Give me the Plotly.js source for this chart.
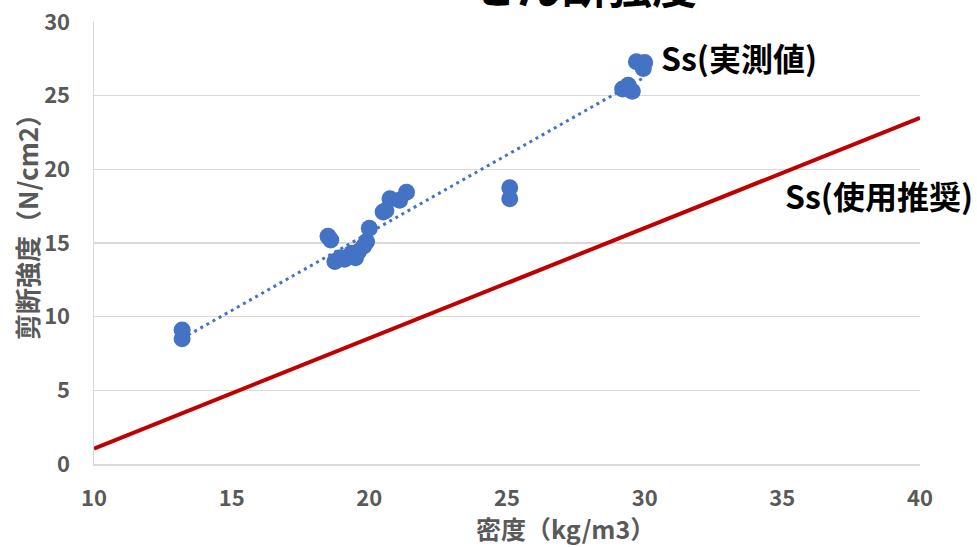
<!DOCTYPE html>
<html>
<head>
<meta charset="utf-8">
<script src="https://cdn.plot.ly/plotly-3.0.1.min.js"></script>
<style>html,body{margin:0;padding:0;background:#fff;}#chart{width:977px;height:547px;}</style>
</head>
<body>
<div id="chart"></div>
<script>
// measured data: density (kg/m3) vs shear strength (N/cm2)
const density = [13.2, 13.2, 18.5, 18.6, 18.75, 18.95, 19.1, 19.35, 19.5, 19.6, 19.8, 19.9, 20.0, 20.5, 20.6, 20.75, 21.1, 21.35, 25.1, 25.1, 29.2, 29.4, 29.55, 29.7, 30.0, 29.95];
const shear = [9.1, 8.5, 15.45, 15.2, 13.75, 14.0, 13.9, 14.3, 14.0, 14.4, 14.8, 15.1, 16.0, 17.1, 17.2, 18.0, 17.9, 18.45, 18.75, 18.0, 25.45, 25.7, 25.3, 27.3, 27.25, 26.85];
// recommended line endpoints
const recX = [10, 40];
const recY = [1.05, 23.5];
const xTicks = [10, 15, 20, 25, 30, 35, 40];
const yTicks = [0, 5, 10, 15, 20, 25, 30];

// linear trendline (least squares) from the measured data
const n = density.length;
const mx = density.reduce((a, b) => a + b, 0) / n;
const my = shear.reduce((a, b) => a + b, 0) / n;
let sxy = 0, sxx = 0;
for (let i = 0; i < n; i++) { sxy += (density[i] - mx) * (shear[i] - my); sxx += (density[i] - mx) ** 2; }
const slope = sxy / sxx, icpt = my - slope * mx;
const tX = [Math.min(...density), Math.max(...density)];
const tY = tX.map(x => icpt + slope * x);

const grey = '#595959';
const font = 'Noto Sans CJK JP, Noto Sans, sans-serif';

const traces = [
  { x: recX, y: recY, mode: 'lines', line: { color: '#C00000', width: 4 }, hoverinfo: 'skip' },
  { x: tX, y: tY, mode: 'lines', line: { color: '#4472C4', width: 3, dash: '3px,4px' }, hoverinfo: 'skip' },
  { x: density, y: shear, mode: 'markers', marker: { color: '#4472C4', size: 17 } }
];

const layout = {
  width: 977, height: 547,
  margin: { l: 94, r: 57, t: 22, b: 83 },
  paper_bgcolor: '#fff', plot_bgcolor: '#fff',
  showlegend: false,
  font: { family: font, color: grey },
  xaxis: {
    range: [10, 40], tickvals: xTicks, ticktext: xTicks.map(String),
    showgrid: false, zeroline: false, showline: true, linecolor: '#D9D9D9', linewidth: 1.5,
    ticks: '', ticklabelstandoff: 14,
    tickfont: { family: font, size: 22, color: grey, weight: 'bold' }
  },
  yaxis: {
    range: [0, 30], tickvals: yTicks, ticktext: yTicks.map(String),
    showgrid: true, gridcolor: '#D9D9D9', gridwidth: 1.5, zeroline: false,
    showline: true, linecolor: '#D9D9D9', linewidth: 1.5,
    ticks: '', ticklabelstandoff: 18,
    tickfont: { family: font, size: 22, color: grey, weight: 'bold' }
  },
  annotations: [
    { text: '<b>せん断強度</b>', xref: 'paper', yref: 'paper', x: 0.594, y: 1.085, xanchor: 'center', yanchor: 'middle', showarrow: false, font: { family: font, size: 45, color: '#000' } },
    { text: '<b>密度（kg/m3）</b>', xref: 'paper', yref: 'paper', x: 0.571, y: -0.145, xanchor: 'center', yanchor: 'middle', showarrow: false, font: { family: font, size: 25, color: grey } },
    { text: '<b>剪断強度（N/cm2）</b>', xref: 'paper', yref: 'paper', x: -0.081, y: 0.55, xanchor: 'center', yanchor: 'middle', textangle: -90, showarrow: false, font: { family: font, size: 26, color: grey } },
    { text: '<b>Ss(実測値)</b>', xref: 'paper', yref: 'paper', x: 0.684, y: 0.92, xanchor: 'left', yanchor: 'middle', showarrow: false, font: { family: font, size: 32, color: '#000' } },
    { text: '<b>Ss(使用推奨)</b>', xref: 'paper', yref: 'paper', x: 0.834, y: 0.609, xanchor: 'left', yanchor: 'middle', showarrow: false, font: { family: font, size: 32, color: '#000' } }
  ]
};

Plotly.newPlot('chart', traces, layout, { displayModeBar: false, staticPlot: true });
</script>
</body>
</html>
